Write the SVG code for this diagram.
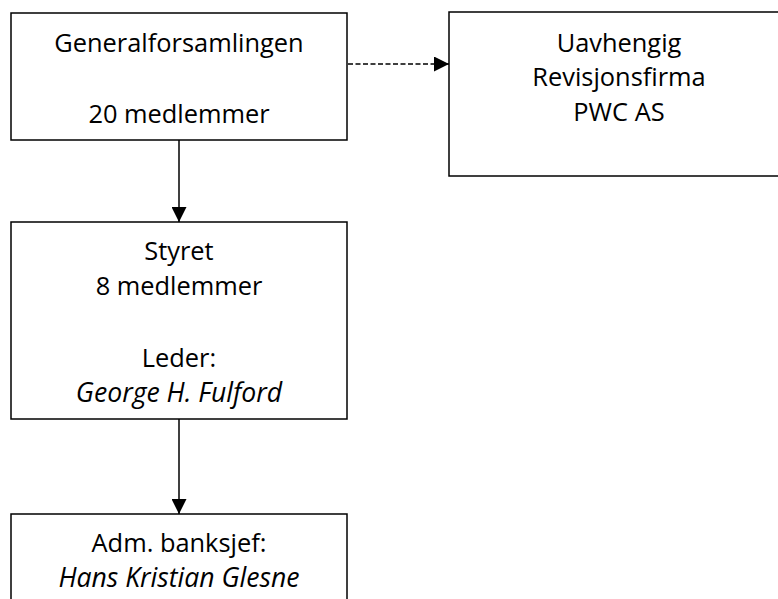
<svg xmlns="http://www.w3.org/2000/svg" width="778" height="599" viewBox="0 0 778 599">
<style>
.box{fill:#fff;stroke:#000;stroke-width:1.5}
.t{font-family:"Open Sans","Liberation Sans",sans-serif;font-size:25.4px;fill:#000;text-anchor:middle}
.i{font-style:italic;font-size:26.6px}
.c{stroke:#000;stroke-width:1.5;fill:none}
</style>
<defs>
<marker id="ah" viewBox="0 0 10 10" refX="10" refY="5" markerWidth="15" markerHeight="15" markerUnits="userSpaceOnUse" orient="auto">
<path d="M0,0 L10,5 L0,10 Z" fill="#000"/>
</marker>
</defs>
<rect width="778" height="599" fill="#fff"/>
<g id="connectors">
<line class="c" x1="348" y1="64" x2="449" y2="64" stroke-dasharray="5,2.5" marker-end="url(#ah)"/>
<line class="c" x1="179" y1="140" x2="179" y2="222" marker-end="url(#ah)"/>
<line class="c" x1="179" y1="419" x2="179" y2="514" marker-end="url(#ah)"/>
</g>
<g id="generalforsamlingen">
<rect class="box" x="11" y="13" width="336" height="127"/>
<text class="t" x="179" y="52">Generalforsamlingen</text>
<text class="t" x="179" y="123">20 medlemmer</text>
</g>
<g id="revisjon">
<rect class="box" x="449" y="12" width="340" height="164"/>
<text class="t" x="619" y="52">Uavhengig</text>
<text class="t" x="619" y="86">Revisjonsfirma</text>
<text class="t" x="619" y="121">PWC AS</text>
</g>
<g id="styret">
<rect class="box" x="11" y="222" width="336" height="197"/>
<text class="t" x="179" y="260">Styret</text>
<text class="t" x="179" y="295">8 medlemmer</text>
<text class="t" x="179" y="367">Leder:</text>
<text class="t i" x="179" y="402">George H. Fulford</text>
</g>
<g id="banksjef">
<rect class="box" x="11" y="514" width="336" height="100"/>
<text class="t" x="179" y="552">Adm. banksjef:</text>
<text class="t i" x="179" y="587">Hans Kristian Glesne</text>
</g>
</svg>
